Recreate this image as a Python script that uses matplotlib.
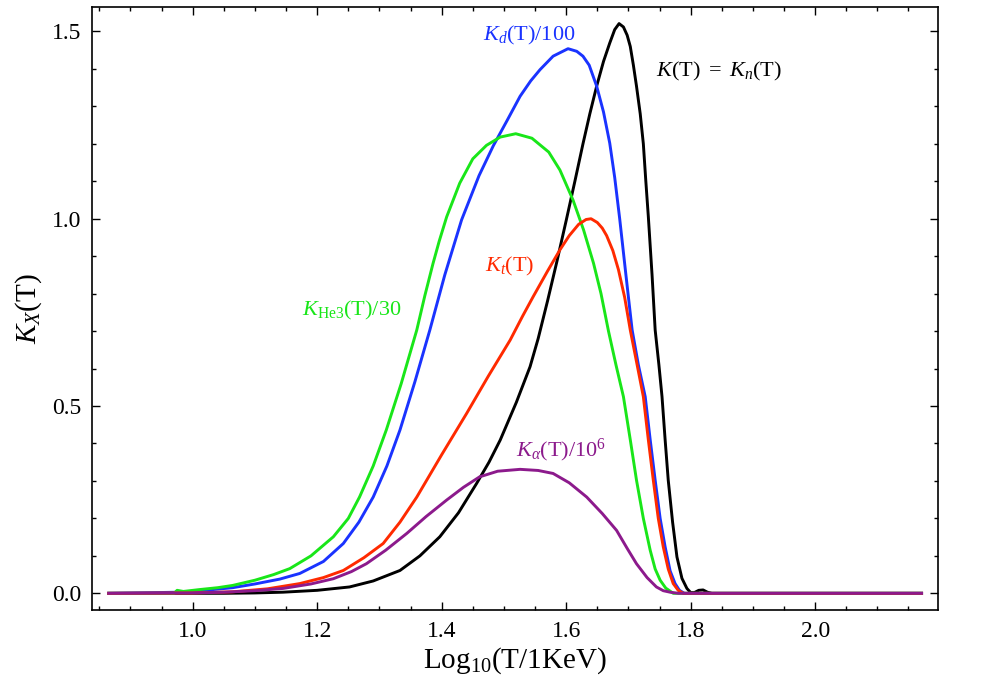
import matplotlib
matplotlib.use("Agg")
import matplotlib.pyplot as plt
from matplotlib.ticker import MultipleLocator

plt.rcParams['font.family'] = ['Liberation Serif', 'DejaVu Serif']
plt.rcParams['mathtext.fontset'] = 'custom'
plt.rcParams['mathtext.rm'] = 'Liberation Serif'
plt.rcParams['mathtext.it'] = 'Liberation Serif:italic'
plt.rcParams['mathtext.bf'] = 'Liberation Serif:bold'

# K_n(T)  (black)
x_n = [0.865, 1.05, 1.10, 1.145, 1.20, 1.252, 1.29, 1.333, 1.365, 1.397, 1.427,
       1.456, 1.476, 1.494, 1.52, 1.542, 1.555, 1.57, 1.585, 1.600, 1.614, 1.627,
       1.638, 1.649, 1.660, 1.670, 1.678, 1.685, 1.692, 1.698, 1.703, 1.708, 1.713,
       1.719, 1.724, 1.728, 1.732, 1.738, 1.743, 1.749, 1.754, 1.759, 1.764, 1.771,
       1.778, 1.786, 1.794, 1.800, 1.806, 1.813, 1.820, 1.827, 1.834, 2.171]
y_n = [0.0, 0.0, 0.001, 0.003, 0.008, 0.017, 0.033, 0.061, 0.10, 0.151, 0.215,
       0.293, 0.35, 0.409, 0.51, 0.605, 0.68, 0.78, 0.885, 0.995, 1.10, 1.20,
       1.28, 1.354, 1.42, 1.469, 1.505, 1.521, 1.512, 1.49, 1.46, 1.41, 1.354,
       1.28, 1.20, 1.10, 1.006, 0.85, 0.703, 0.61, 0.525, 0.41, 0.302, 0.19,
       0.097, 0.04, 0.013, 0.002, 0.002, 0.008, 0.009, 0.003, 0.0, 0.0]

# K_d(T)/100  (blue)
x_d = [0.865, 0.98, 1.02, 1.064, 1.10, 1.14, 1.172, 1.21, 1.242, 1.267, 1.290,
       1.312, 1.333, 1.357, 1.381, 1.405, 1.432, 1.46, 1.483, 1.505, 1.526, 1.543,
       1.558, 1.579, 1.603, 1.617, 1.627, 1.637, 1.649, 1.660, 1.670, 1.678, 1.686,
       1.696, 1.706, 1.716, 1.727, 1.735, 1.743, 1.751, 1.759, 1.767, 1.775, 1.782,
       1.790, 2.171]
y_d = [0.0, 0.003, 0.008, 0.015, 0.025, 0.038, 0.053, 0.085, 0.133, 0.19, 0.257,
       0.34, 0.436, 0.565, 0.703, 0.85, 0.997, 1.115, 1.195, 1.262, 1.327, 1.368,
       1.398, 1.434, 1.454, 1.447, 1.434, 1.41, 1.354, 1.285, 1.202, 1.11, 1.0,
       0.85, 0.703, 0.61, 0.525, 0.41, 0.302, 0.20, 0.124, 0.06, 0.026, 0.008,
       0.0, 0.0]

# K_He3(T)/30  (green)
x_he = [0.865, 0.970, 0.975, 0.985, 1.011, 1.04, 1.064, 1.10, 1.13, 1.156, 1.19,
        1.226, 1.25, 1.268, 1.29, 1.311, 1.335, 1.360, 1.373, 1.386, 1.396, 1.408,
        1.429, 1.45, 1.472, 1.494, 1.519, 1.545, 1.572, 1.59, 1.611, 1.628, 1.644,
        1.656, 1.668, 1.68, 1.692, 1.703, 1.713, 1.724, 1.735, 1.743, 1.751, 1.76,
        1.772, 2.171]
y_he = [0.0, 0.0, 0.008, 0.005, 0.010, 0.015, 0.021, 0.035, 0.050, 0.066, 0.10,
        0.151, 0.20, 0.257, 0.34, 0.436, 0.56, 0.703, 0.795, 0.88, 0.94, 1.005,
        1.095, 1.16, 1.196, 1.218, 1.227, 1.215, 1.178, 1.13, 1.05, 0.97, 0.881,
        0.80, 0.70, 0.61, 0.525, 0.41, 0.302, 0.20, 0.115, 0.065, 0.035, 0.014,
        0.0, 0.0]

# K_t(T)  (red)
x_t = [0.865, 1.0, 1.064, 1.12, 1.172, 1.21, 1.242, 1.275, 1.306, 1.333, 1.360,
       1.40, 1.440, 1.475, 1.510, 1.530, 1.547, 1.57, 1.590, 1.605, 1.62, 1.632,
       1.640, 1.650, 1.658, 1.665, 1.675, 1.684, 1.694, 1.703, 1.714, 1.724, 1.732,
       1.740, 1.748, 1.756, 1.764, 1.772, 1.780, 1.788, 2.171]
y_t = [0.0, 0.001, 0.004, 0.012, 0.026, 0.042, 0.061, 0.095, 0.133, 0.19, 0.257,
       0.37, 0.480, 0.58, 0.676, 0.74, 0.792, 0.86, 0.917, 0.955, 0.985, 0.998,
       1.0, 0.99, 0.975, 0.955, 0.915, 0.864, 0.79, 0.703, 0.61, 0.525, 0.41,
       0.302, 0.20, 0.124, 0.065, 0.026, 0.008, 0.0, 0.0]

# K_alpha(T)/10^6  (purple)
x_a = [0.865, 1.0, 1.05, 1.10, 1.145, 1.19, 1.226, 1.255, 1.279, 1.31, 1.344,
       1.375, 1.408, 1.435, 1.461, 1.49, 1.526, 1.555, 1.579, 1.605, 1.633, 1.658,
       1.681, 1.698, 1.713, 1.73, 1.745, 1.756, 1.767, 1.780, 2.171]
y_a = [0.0, 0.001, 0.003, 0.007, 0.013, 0.025, 0.039, 0.058, 0.079, 0.115, 0.160,
       0.205, 0.249, 0.283, 0.311, 0.326, 0.331, 0.328, 0.320, 0.295, 0.257, 0.213,
       0.168, 0.12, 0.079, 0.042, 0.017, 0.007, 0.003, 0.0, 0.0]

c_blue = '#1a33ff'
c_green = '#19e619'
c_red = '#ff2a00'
c_purple = '#8c1a8c'

fig = plt.figure(figsize=(9.84, 6.81), dpi=100)
ax = fig.add_axes([0.094, 0.104, 0.859, 0.885])

lw = 2.1
ax.plot(x_n, y_n, color='black', lw=lw)
ax.plot(x_d, y_d, color=c_blue, lw=lw)
ax.plot(x_he, y_he, color=c_green, lw=lw)
ax.plot(x_t, y_t, color=c_red, lw=lw)
ax.plot(x_a, y_a, color=c_purple, lw=lw)

fs = 16
ax.text(1.540, 1.490, r'$K_d\mathrm{(T)/100}$', color=c_blue, fontsize=fs, ha='center', va='center')
ax.text(1.845, 1.394, r'$K\mathrm{(T)\ =\ }K_n\mathrm{(T)}$', color='black', fontsize=fs, ha='center', va='center')
ax.text(1.509, 0.872, r'$K_t\mathrm{(T)}$', color=c_red, fontsize=fs, ha='center', va='center')
ax.text(1.255, 0.755, r'$K_{\mathrm{He3}}\mathrm{(T)/30}$', color=c_green, fontsize=fs, ha='center', va='center')
ax.text(1.592, 0.382, r'$K_\alpha\mathrm{(T)/10^6}$', color=c_purple, fontsize=fs, ha='center', va='center')

ax.set_xlim(0.839, 2.197)
ax.set_ylim(-0.045, 1.564)
ax.xaxis.set_major_locator(MultipleLocator(0.2))
ax.xaxis.set_minor_locator(MultipleLocator(0.05))
ax.yaxis.set_major_locator(MultipleLocator(0.5))
ax.yaxis.set_minor_locator(MultipleLocator(0.1))
ax.xaxis.set_major_formatter(plt.FuncFormatter(lambda v, p: '%.1f' % v))
ax.yaxis.set_major_formatter(plt.FuncFormatter(lambda v, p: '%.1f' % v))
ax.tick_params(which='both', direction='in', top=True, right=True, width=1.0)
ax.tick_params(which='major', length=6, labelsize=17, pad=8)
ax.tick_params(which='minor', length=3)
for s in ax.spines.values():
    s.set_linewidth(1.2)

ax.set_xlabel(r'$\mathrm{Log_{10}(T/1KeV)}$', fontsize=21, labelpad=2)
ax.set_ylabel(r'$K_X\mathrm{(T)}$', fontsize=21, labelpad=6)

fig.savefig('out.png', dpi=100)
